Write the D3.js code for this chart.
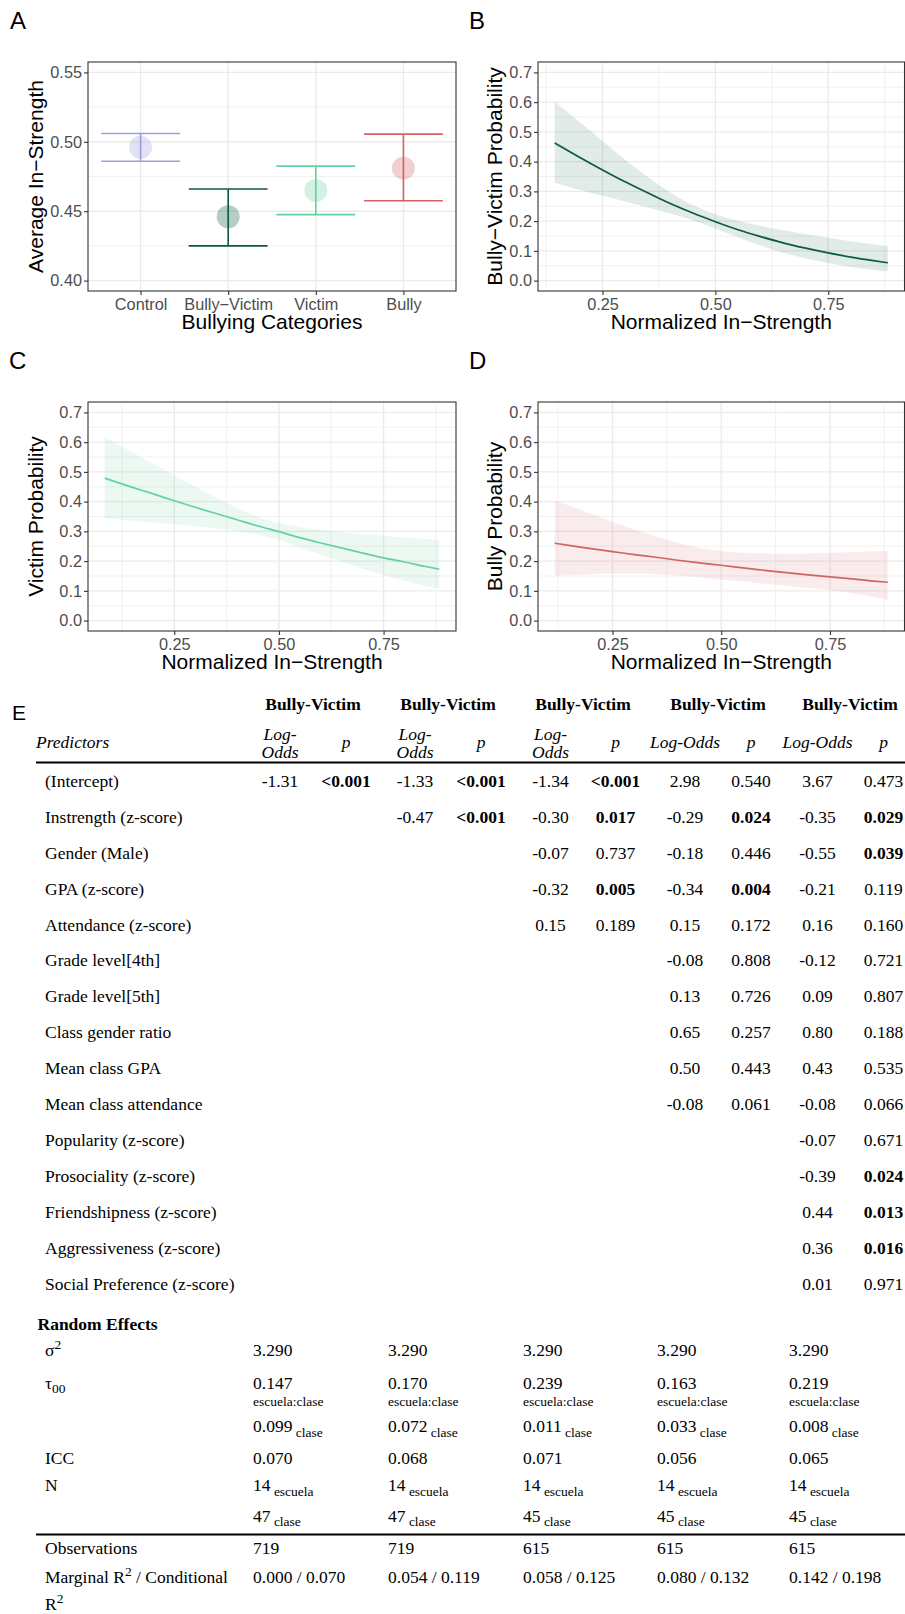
<!DOCTYPE html>
<html>
<head>
<meta charset="utf-8">
<script src="https://cdn.jsdelivr.net/npm/d3@7"></script>
<style>
  body { margin: 0; background: #fff; }
  svg { display: block; }
</style>
</head>
<body>
<div id="chart"></div>
<script>
// ---------- panel A: average in-strength per category
const categories = ["Control", "Bully\u2212Victim", "Victim", "Bully"];
const meanStrength = [0.496, 0.446, 0.465, 0.481];
const lowerStrength = [0.486, 0.425, 0.4475, 0.4575];
const upperStrength = [0.506, 0.466, 0.4825, 0.5055];
const strengthTicks = [0.40, 0.45, 0.50, 0.55];
const strengthMinor = [0.425, 0.475, 0.525];
const catColors = ["#9E9EDE", "#0B5A41", "#66D19E", "#D46262"];

// ---------- panels B-D: predicted probabilities
const probTicks = [0.0, 0.1, 0.2, 0.3, 0.4, 0.5, 0.6, 0.7];
const probMinor = [0.05, 0.15, 0.25, 0.35, 0.45, 0.55, 0.65];
const strengthXTicks = [0.25, 0.50, 0.75];
const strengthXMinor = [0.125, 0.375, 0.625, 0.875];

const bvX =    [0.144, 0.2, 0.25, 0.3, 0.35, 0.4, 0.45, 0.5, 0.55, 0.6, 0.65, 0.7, 0.75, 0.8, 0.85, 0.882];
const bvFit =  [0.463, 0.414, 0.372, 0.332, 0.295, 0.259, 0.227, 0.198, 0.171, 0.148, 0.127, 0.109, 0.093, 0.079, 0.067, 0.060];
const bvLow =  [0.329, 0.305, 0.285, 0.266, 0.246, 0.226, 0.203, 0.175, 0.146, 0.118, 0.094, 0.075, 0.059, 0.046, 0.036, 0.031];
const bvHigh = [0.602, 0.532, 0.469, 0.406, 0.348, 0.296, 0.254, 0.223, 0.201, 0.184, 0.169, 0.156, 0.144, 0.132, 0.122, 0.116];

const vX =    [0.084, 0.15, 0.2, 0.25, 0.3, 0.35, 0.4, 0.45, 0.5, 0.55, 0.6, 0.65, 0.7, 0.75, 0.8, 0.85, 0.883];
const vFit =  [0.479, 0.448, 0.426, 0.403, 0.381, 0.360, 0.339, 0.318, 0.299, 0.279, 0.261, 0.244, 0.227, 0.211, 0.197, 0.182, 0.173];
const vLow =  [0.344, 0.336, 0.330, 0.324, 0.317, 0.310, 0.301, 0.289, 0.271, 0.247, 0.222, 0.198, 0.174, 0.153, 0.134, 0.116, 0.106];
const vHigh = [0.617, 0.566, 0.527, 0.488, 0.450, 0.413, 0.379, 0.349, 0.328, 0.314, 0.305, 0.297, 0.291, 0.285, 0.279, 0.274, 0.271];

const bX =    [0.117, 0.15, 0.2, 0.25, 0.3, 0.35, 0.4, 0.45, 0.5, 0.55, 0.6, 0.65, 0.7, 0.75, 0.8, 0.85, 0.883];
const bFit =  [0.260, 0.253, 0.242, 0.232, 0.222, 0.213, 0.203, 0.194, 0.186, 0.177, 0.169, 0.161, 0.154, 0.147, 0.140, 0.133, 0.129];
const bLow =  [0.151, 0.153, 0.156, 0.158, 0.158, 0.156, 0.152, 0.146, 0.138, 0.132, 0.124, 0.117, 0.110, 0.103, 0.092, 0.080, 0.070];
const bHigh = [0.403, 0.387, 0.360, 0.332, 0.306, 0.283, 0.262, 0.245, 0.233, 0.228, 0.226, 0.225, 0.226, 0.228, 0.230, 0.233, 0.235];

// ---------- panel E: regression table
const models = ["m1", "m2", "m3", "m4", "m5"];
const modelTitles = ["Bully-Victim", "Bully-Victim", "Bully-Victim", "Bully-Victim", "Bully-Victim"];
const predictors = ["(Intercept)", "Instrength (z-score)", "Gender (Male)", "GPA (z-score)",
  "Attendance (z-score)", "Grade level[4th]", "Grade level[5th]", "Class gender ratio",
  "Mean class GPA", "Mean class attendance", "Popularity (z-score)", "Prosociality (z-score)",
  "Friendshipness (z-score)", "Aggressiveness (z-score)", "Social Preference (z-score)"];
const logOdds = [
  [-1.31],
  [-1.33, -0.47],
  [-1.34, -0.30, -0.07, -0.32, 0.15],
  [2.98, -0.29, -0.18, -0.34, 0.15, -0.08, 0.13, 0.65, 0.50, -0.08],
  [3.67, -0.35, -0.55, -0.21, 0.16, -0.12, 0.09, 0.80, 0.43, -0.08, -0.07, -0.39, 0.44, 0.36, 0.01]
];
const pValues = [
  ["<0.001"],
  ["<0.001", "<0.001"],
  ["<0.001", "0.017", "0.737", "0.005", "0.189"],
  ["0.540", "0.024", "0.446", "0.004", "0.172", "0.808", "0.726", "0.257", "0.443", "0.061"],
  ["0.473", "0.029", "0.039", "0.119", "0.160", "0.721", "0.807", "0.188", "0.535", "0.066",
   "0.671", "0.024", "0.013", "0.016", "0.971"]
];
const sigma2 = ["3.290", "3.290", "3.290", "3.290", "3.290"];
const tauSchoolClass = ["0.147", "0.170", "0.239", "0.163", "0.219"];
const tauClass = ["0.099", "0.072", "0.011", "0.033", "0.008"];
const icc = ["0.070", "0.068", "0.071", "0.056", "0.065"];
const nSchool = ["14", "14", "14", "14", "14"];
const nClass = ["47", "47", "45", "45", "45"];
const observations = ["719", "719", "615", "615", "615"];
const r2 = ["0.000 / 0.070", "0.054 / 0.119", "0.058 / 0.125", "0.080 / 0.132", "0.142 / 0.198"];

// ---------------------------------------------------------------
const sans = "'Liberation Sans', Arial, Helvetica, sans-serif";
const serif = "'Liberation Serif', 'Times New Roman', Times, serif";
const gridCol = "#EBEBEB";

const svg = d3.select("#chart").append("svg")
    .attr("width", 905)
    .attr("height", 1614);
svg.append("rect").attr("width", 905).attr("height", 1614).attr("fill", "#fff");

function expand(lim) {
    const d = (lim[1] - lim[0]) * 0.05;
    return [lim[0] - d, lim[1] + d];
}

function grid(g, w, h, x, y, xMajor, xMinor, yMajor, yMinor) {
    g.selectAll(".hmin").data(yMinor).enter().append("line")
        .attr("x1", 0).attr("x2", w).attr("y1", y).attr("y2", y)
        .attr("stroke", gridCol).attr("stroke-width", 0.7);
    g.selectAll(".vmin").data(xMinor).enter().append("line")
        .attr("y1", 0).attr("y2", h).attr("x1", x).attr("x2", x)
        .attr("stroke", gridCol).attr("stroke-width", 0.7);
    g.selectAll(".hmaj").data(yMajor).enter().append("line")
        .attr("x1", 0).attr("x2", w).attr("y1", y).attr("y2", y)
        .attr("stroke", gridCol).attr("stroke-width", 1.4);
    g.selectAll(".vmaj").data(xMajor).enter().append("line")
        .attr("y1", 0).attr("y2", h).attr("x1", x).attr("x2", x)
        .attr("stroke", gridCol).attr("stroke-width", 1.4);
}

function styleAxis(a) {
    a.select(".domain").remove();
    a.selectAll("line").attr("stroke", "#333").attr("stroke-width", 1.1);
    a.selectAll("text").attr("fill", "#4D4D4D").attr("font-size", 16.3).attr("font-family", sans);
}

function finishPanel(g, w, h, x, y, yTicks, yFmt, xTickVals, xFmt, xTitle, yTitle, yTitleX) {
    g.append("rect").attr("width", w).attr("height", h)
        .attr("fill", "none").attr("stroke", "#333").attr("stroke-width", 1.1);

    g.append("g")
        .call(d3.axisLeft(y).tickValues(yTicks).tickSize(4).tickPadding(2).tickFormat(yFmt))
        .call(styleAxis);

    let xAxis = d3.axisBottom(x).tickSize(4).tickPadding(3.5);
    if (xTickVals) xAxis = xAxis.tickValues(xTickVals);
    if (xFmt) xAxis = xAxis.tickFormat(xFmt);
    g.append("g")
        .attr("transform", "translate(0," + h + ")")
        .call(xAxis)
        .call(styleAxis);

    g.append("text")
        .attr("x", w / 2).attr("y", h + 38)
        .attr("text-anchor", "middle")
        .attr("font-family", sans).attr("font-size", 21)
        .text(xTitle);

    g.append("text")
        .attr("transform", `translate(${yTitleX},${h / 2}) rotate(-90)`)
        .attr("text-anchor", "middle")
        .attr("font-family", sans).attr("font-size", 21)
        .text(yTitle);
}

function panelLabel(txt, x, y, size) {
    svg.append("text")
        .attr("x", x).attr("y", y)
        .attr("font-family", sans).attr("font-size", size || 24)
        .text(txt);
}

// ---------- panel A
(function () {
    const left = 88, top = 62, w = 368, h = 229;
    const g = svg.append("g").attr("transform", `translate(${left},${top})`);

    const x = d3.scalePoint().domain(categories).range([0, w]).padding(0.6);
    const y = d3.scaleLinear().domain(expand([0.40, 0.55])).range([h, 0]);

    grid(g, w, h, x, y, categories, [], strengthTicks, strengthMinor);

    const data = categories.map((c, i) => ({
        cat: c, mean: meanStrength[i], lo: lowerStrength[i], hi: upperStrength[i], color: catColors[i]
    }));
    const half = x.step() * 0.45;

    const bars = g.selectAll(".err").data(data).enter().append("g").attr("class", "err");
    bars.append("line")
        .attr("x1", d => x(d.cat)).attr("x2", d => x(d.cat))
        .attr("y1", d => y(d.lo)).attr("y2", d => y(d.hi))
        .attr("stroke", d => d.color).attr("stroke-width", 1.6);
    bars.append("line")
        .attr("x1", d => x(d.cat) - half).attr("x2", d => x(d.cat) + half)
        .attr("y1", d => y(d.hi)).attr("y2", d => y(d.hi))
        .attr("stroke", d => d.color).attr("stroke-width", 1.6);
    bars.append("line")
        .attr("x1", d => x(d.cat) - half).attr("x2", d => x(d.cat) + half)
        .attr("y1", d => y(d.lo)).attr("y2", d => y(d.lo))
        .attr("stroke", d => d.color).attr("stroke-width", 1.6);
    g.selectAll(".pt").data(data).enter().append("circle")
        .attr("cx", d => x(d.cat)).attr("cy", d => y(d.mean)).attr("r", 11.5)
        .attr("fill", d => d.color).attr("fill-opacity", 0.3);

    finishPanel(g, w, h, x, y, strengthTicks, d3.format(".2f"), null, null,
        "Bullying Categories", "Average In\u2212Strength", 42.5 - left);
})();

// ---------- panels B, C, D
function probPanel(left, top, w, xs, fit, low, high, color, yTitle, yTitleX) {
    const h = 229;
    const g = svg.append("g").attr("transform", `translate(${left},${top})`);
    const x = d3.scaleLinear().domain(expand(d3.extent(xs))).range([0, w]);
    const y = d3.scaleLinear().domain(expand([0, 0.7])).range([h, 0]);

    const xMinor = strengthXMinor.filter(v => v > x.domain()[0] && v < x.domain()[1]);
    grid(g, w, h, x, y, strengthXTicks, xMinor, probTicks, probMinor);

    const pts = xs.map((v, i) => ({x: v, fit: fit[i], lo: low[i], hi: high[i]}));

    g.append("path")
        .datum(pts)
        .attr("fill", color).attr("fill-opacity", 0.12)
        .attr("d", d3.area().curve(d3.curveMonotoneX)
            .x(d => x(d.x)).y0(d => y(d.lo)).y1(d => y(d.hi)));

    g.append("path")
        .datum(pts)
        .attr("fill", "none").attr("stroke", color).attr("stroke-width", 1.7)
        .attr("d", d3.line().curve(d3.curveMonotoneX).x(d => x(d.x)).y(d => y(d.fit)));

    finishPanel(g, w, h, x, y, probTicks, d3.format(".1f"), strengthXTicks, d3.format(".2f"),
        "Normalized In\u2212Strength", yTitle, yTitleX - left);
}

probPanel(538, 62, 366.5, bvX, bvFit, bvLow, bvHigh, catColors[1], "Bully\u2212Victim Probability", 501.5);
probPanel(88, 402, 368, vX, vFit, vLow, vHigh, catColors[2], "Victim Probability", 42.5);
probPanel(538, 402, 366.5, bX, bFit, bLow, bHigh, catColors[3], "Bully Probability", 501.5);

panelLabel("A", 10, 29);
panelLabel("B", 469, 29);
panelLabel("C", 9, 369);
panelLabel("D", 469, 369);

// ---------- panel E: table
panelLabel("E", 12, 720, 21);

const groupX = d3.scaleOrdinal().domain(models).range([313, 448, 583, 718, 850]);
const estX = d3.scaleOrdinal().domain(models).range([280, 415, 550.5, 685, 817.5]);
const pX = d3.scaleOrdinal().domain(models).range([346, 481, 615.5, 751, 883.5]);
const reX = d3.scaleOrdinal().domain(models).range([253, 388, 523, 657, 789]);
const rowY = d3.scalePoint().domain(predictors).range([787, 1289.5]);
const wrapHeader = d3.scaleOrdinal().domain(models).range([true, true, true, false, false]);

const tbl = svg.append("g")
    .attr("font-family", serif)
    .attr("font-size", 17.5)
    .attr("fill", "#000");

tbl.selectAll(".grp").data(models).enter().append("text")
    .attr("x", d => groupX(d)).attr("y", 710)
    .attr("text-anchor", "middle").attr("font-weight", "bold")
    .text((d, i) => modelTitles[i]);

tbl.append("text").attr("x", 36).attr("y", 747.5)
    .attr("font-style", "italic").text("Predictors");

models.forEach(m => {
    if (wrapHeader(m)) {
        const hd = tbl.append("text").attr("x", estX(m)).attr("y", 739.5).attr("text-anchor", "middle")
            .attr("font-style", "italic");
        hd.append("tspan").attr("x", estX(m)).text("Log-");
        hd.append("tspan").attr("x", estX(m)).attr("dy", 18).text("Odds");
    } else {
        tbl.append("text").attr("x", estX(m)).attr("y", 747.5).attr("text-anchor", "middle")
            .attr("font-style", "italic").text("Log-Odds");
    }
    tbl.append("text").attr("x", pX(m)).attr("y", 747.5).attr("text-anchor", "middle")
        .attr("font-style", "italic").text("p");
});

function rule(y) {
    tbl.append("line").attr("x1", 36).attr("x2", 905).attr("y1", y).attr("y2", y)
        .attr("stroke", "#000").attr("stroke-width", 2.2);
}
rule(762.5);

tbl.selectAll(".pred").data(predictors).enter().append("text")
    .attr("x", 45).attr("y", d => rowY(d))
    .text(d => d);

models.forEach((m, mi) => {
    logOdds[mi].forEach((v, ri) => {
        tbl.append("text")
            .attr("x", estX(m)).attr("y", rowY(predictors[ri]))
            .attr("text-anchor", "middle")
            .text(v.toFixed(2));
    });
    pValues[mi].forEach((p, ri) => {
        const sig = p.startsWith("<") || parseFloat(p) < 0.05;
        tbl.append("text")
            .attr("x", pX(m)).attr("y", rowY(predictors[ri]))
            .attr("text-anchor", "middle")
            .attr("font-weight", sig ? "bold" : "normal")
            .text(p);
    });
});

// random effects block
tbl.append("text").attr("x", 37.5).attr("y", 1330).attr("font-weight", "bold").text("Random Effects");

const sigLab = tbl.append("text").attr("x", 45).attr("y", 1356);
sigLab.append("tspan").text("\u03c3");
sigLab.append("tspan").attr("font-size", 13.5).attr("dy", -7).text("2");

const tauLab = tbl.append("text").attr("x", 45).attr("y", 1388.5);
tauLab.append("tspan").text("\u03c4");
tauLab.append("tspan").attr("font-size", 13.5).attr("dy", 4).text("00");

tbl.append("text").attr("x", 45).attr("y", 1463.5).text("ICC");
tbl.append("text").attr("x", 45).attr("y", 1491).text("N");
tbl.append("text").attr("x", 45).attr("y", 1554).text("Observations");

const r2Lab = tbl.append("text").attr("x", 45).attr("y", 1582.5);
r2Lab.append("tspan").text("Marginal R");
r2Lab.append("tspan").attr("font-size", 13.5).attr("dy", -7).text("2");
r2Lab.append("tspan").attr("dy", 7).text(" / Conditional");
const r2Lab2 = tbl.append("text").attr("x", 45).attr("y", 1610);
r2Lab2.append("tspan").text("R");
r2Lab2.append("tspan").attr("font-size", 13.5).attr("dy", -7).text("2");

function withSub(x, y, main, sub) {
    const t = tbl.append("text").attr("x", x).attr("y", y);
    t.append("tspan").text(main);
    t.append("tspan").attr("font-size", 13.5).attr("dy", 4.5).text("\u00a0" + sub);
}

models.forEach((m, i) => {
    const x = reX(m);
    tbl.append("text").attr("x", x).attr("y", 1356).text(sigma2[i]);
    tbl.append("text").attr("x", x).attr("y", 1388.5).text(tauSchoolClass[i]);
    tbl.append("text").attr("x", x).attr("y", 1406).attr("font-size", 13.5).text("escuela:clase");
    withSub(x, 1432, tauClass[i], "clase");
    tbl.append("text").attr("x", x).attr("y", 1463.5).text(icc[i]);
    withSub(x, 1491, nSchool[i], "escuela");
    withSub(x, 1521.5, nClass[i], "clase");
    tbl.append("text").attr("x", x).attr("y", 1554).text(observations[i]);
    tbl.append("text").attr("x", x).attr("y", 1582.5).text(r2[i]);
});

rule(1534.5);
</script>
</body>
</html>
